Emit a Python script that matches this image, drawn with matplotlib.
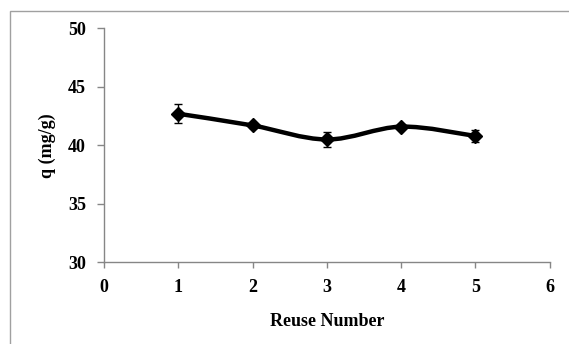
import numpy as np
import matplotlib.pyplot as plt
from matplotlib.path import Path
from matplotlib.patches import PathPatch, Rectangle

# data
reuse_number = [1, 2, 3, 4, 5]
q_values = [42.7, 41.7, 40.5, 41.6, 40.8]
q_errors = [0.8, 0.2, 0.65, 0.2, 0.5]
x_ticks = [0, 1, 2, 3, 4, 5, 6]
y_ticks = [30, 35, 40, 45, 50]

plt.rcParams['font.family'] = ['Liberation Serif', 'DejaVu Serif']
plt.rcParams['font.weight'] = 'bold'

fig = plt.figure(figsize=(5.69, 3.44), dpi=100)
# grey frame around the chart area (runs off the right/bottom edge)
fig.patches.append(Rectangle((10 / 569, -0.05), 1.2, 1 - 11 / 344 + 0.05,
                             transform=fig.transFigure, fill=False,
                             edgecolor='#a0a0a0', linewidth=1.0))

ax = fig.add_axes([0.183, 0.2375, 0.783, 0.680])

# smoothed line through the points (Catmull-Rom as bezier segments)
xs = np.array(reuse_number, dtype=float)
ys = np.array(q_values, dtype=float)
verts = [(xs[0], ys[0])]
codes = [Path.MOVETO]
n = len(xs)
for i in range(n - 1):
    p0 = (xs[max(i - 1, 0)], ys[max(i - 1, 0)])
    p1 = (xs[i], ys[i])
    p2 = (xs[i + 1], ys[i + 1])
    p3 = (xs[min(i + 2, n - 1)], ys[min(i + 2, n - 1)])
    c1 = (p1[0] + (p2[0] - p0[0]) / 6, p1[1] + (p2[1] - p0[1]) / 6)
    c2 = (p2[0] - (p3[0] - p1[0]) / 6, p2[1] - (p3[1] - p1[1]) / 6)
    verts += [c1, c2, p2]
    codes += [Path.CURVE4] * 3
ax.add_patch(PathPatch(Path(verts, codes), fill=False, edgecolor='black',
                       linewidth=3.2, zorder=2))

ax.errorbar(reuse_number, q_values, yerr=q_errors, fmt='D', color='black',
            markersize=7.5, ecolor='black', elinewidth=1.0, capsize=3,
            capthick=1.0, zorder=3)

ax.set_xlim(0, 6)
ax.set_ylim(30, 50)
ax.set_xticks(x_ticks)
ax.set_yticks(y_ticks)
for side in ['top', 'right']:
    ax.spines[side].set_visible(False)
for side in ['left', 'bottom']:
    ax.spines[side].set_color('#868686')
    ax.spines[side].set_linewidth(1.0)
ax.tick_params(axis='y', direction='out', length=5, width=1.0, color='#868686',
               labelsize=13, pad=8)
ax.tick_params(axis='x', direction='out', length=4, width=1.0, color='#868686',
               labelsize=13, pad=8)
for lbl in ax.get_xticklabels() + ax.get_yticklabels():
    lbl.set_fontweight('bold')

ax.set_xlabel('Reuse Number', fontsize=13, fontweight='bold', labelpad=12)
ax.set_ylabel('q (mg/g)', fontsize=13, fontweight='bold', labelpad=9)

fig.savefig('out.png', dpi=100)
